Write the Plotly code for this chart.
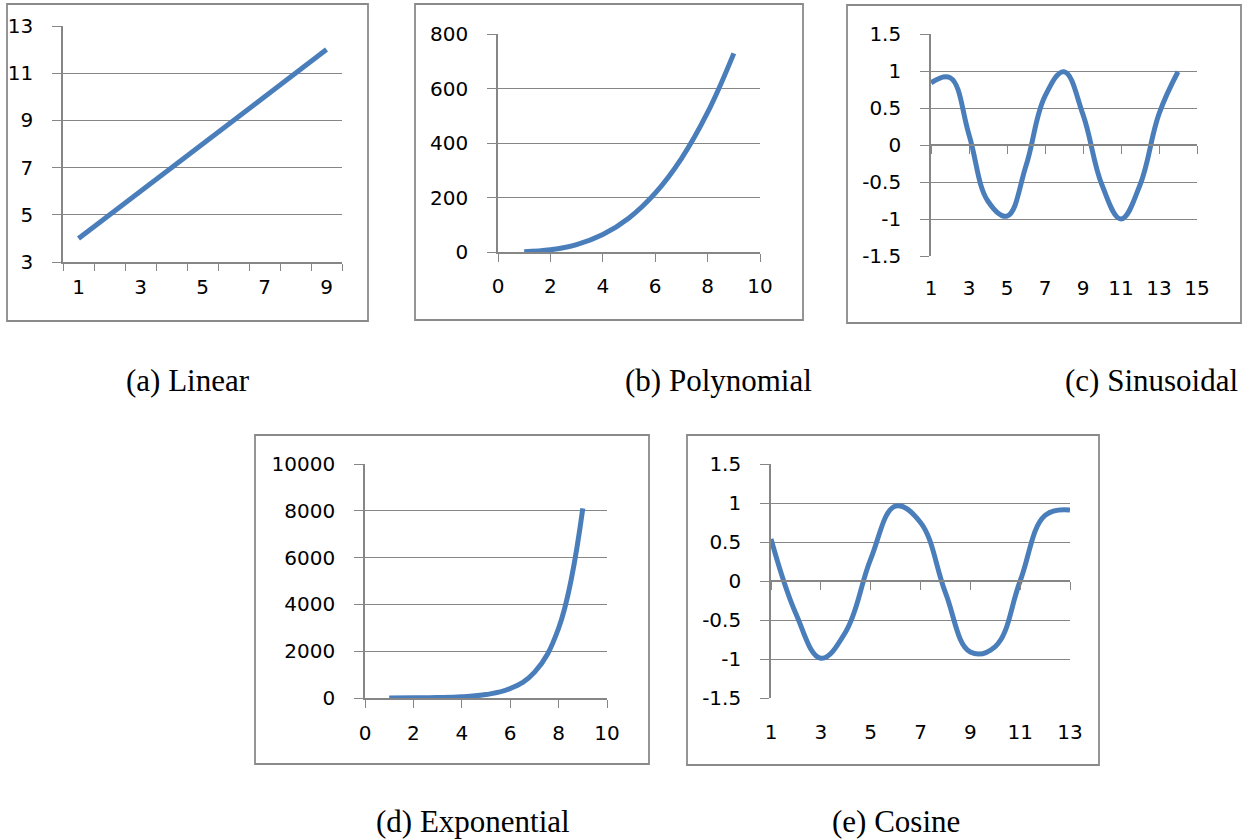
import plotly.graph_objects as go

W, H = 1244, 840

# ---------------- data ----------------
lin_x = [1, 2, 3, 4, 5, 6, 7, 8, 9]
lin_y = [4, 5, 6, 7, 8, 9, 10, 11, 12]

poly_x = [1, 2, 3, 4, 5, 6, 7, 8, 9]
poly_y = [1, 8, 27, 64, 125, 216, 343, 512, 729]

sin_x = [1, 2, 3, 4, 5, 6, 7, 8, 9, 10, 11, 12, 13, 14]
sin_y = [0.84, 0.91, 0.14, -0.76, -0.96, -0.28, 0.66, 0.99, 0.41, -0.54, -1.0, -0.54, 0.42, 0.99]

exp_x = [1, 2, 3, 4, 5, 6, 7, 8, 9]
exp_y = [2.7, 7.4, 20.1, 54.6, 148.4, 403.4, 1096.6, 2981.0, 8103.1]

cos_x = [1, 2, 3, 4, 5, 6, 7, 8, 9, 10, 11, 12, 13]
cos_y = [0.54, -0.42, -0.99, -0.65, 0.28, 0.96, 0.75, -0.15, -0.91, -0.84, 0.0, 0.84, 0.91]

# tick labels
lin_xticks = [1, 3, 5, 7, 9]
lin_yticks = [3, 5, 7, 9, 11, 13]
poly_xticks = [0, 2, 4, 6, 8, 10]
poly_yticks = [0, 200, 400, 600, 800]
sin_xticks = [1, 3, 5, 7, 9, 11, 13, 15]
wave_yticks = [-1.5, -1, -0.5, 0, 0.5, 1, 1.5]
wave_ytext = ["-1.5", "-1", "-0.5", "0", "0.5", "1", "1.5"]
exp_xticks = [0, 2, 4, 6, 8, 10]
exp_yticks = [0, 2000, 4000, 6000, 8000, 10000]
cos_xticks = [1, 3, 5, 7, 9, 11, 13]

captions = ["(a) Linear", "(b) Polynomial", "(c) Sinusoidal", "(d) Exponential", "(e) Cosine"]

# ---------------- style ----------------
LINE = "#4A7EBB"
GRID = "#868686"
FONT = dict(family="'DejaVu Sans', 'Liberation Sans', sans-serif", size=20, color="#000000")


def xd(a, b):
    return [a / W, b / W]


def yd(top, bottom):
    return [1 - bottom / H, 1 - top / H]


def yaxis(dom, rng, vals, text=None, anchor="x"):
    return dict(domain=dom, range=rng, tickvals=vals, ticktext=text if text else [str(v) for v in vals],
                showgrid=True, gridcolor=GRID, gridwidth=1.4, zeroline=False,
                showline=True, linecolor=GRID, linewidth=1.6,
                ticks="outside", ticklen=9, tickcolor=GRID, tickwidth=1.4,
                tickfont=FONT, ticklabelstandoff=15, anchor=anchor, fixedrange=True,
                automargin=False)


fig = go.Figure()
line = dict(color=LINE, width=5, shape="spline", smoothing=1.15)

fig.add_trace(go.Scatter(x=lin_x, y=lin_y, mode="lines", line=dict(color=LINE, width=5),
                         xaxis="x", yaxis="y"))
fig.add_trace(go.Scatter(x=poly_x, y=poly_y, mode="lines", line=line, xaxis="x2", yaxis="y2"))
fig.add_trace(go.Scatter(x=sin_x, y=sin_y, mode="lines", line=line, xaxis="x3", yaxis="y3"))
fig.add_trace(go.Scatter(x=exp_x, y=exp_y, mode="lines", line=line, xaxis="x4", yaxis="y4"))
fig.add_trace(go.Scatter(x=cos_x, y=cos_y, mode="lines", line=line, xaxis="x5", yaxis="y5"))
# empty traces to create the zero-line axes for (c) and (e)
fig.add_trace(go.Scatter(x=[], y=[], mode="lines", xaxis="x6", yaxis="y3", hoverinfo="skip"))
fig.add_trace(go.Scatter(x=[], y=[], mode="lines", xaxis="x7", yaxis="y5", hoverinfo="skip"))

dom_a = (xd(63, 342), yd(26, 262))
dom_b = (xd(498, 760), yd(34, 252))
dom_c = (xd(931, 1197), yd(34, 256))
dom_d = (xd(365, 607), yd(464, 698))
dom_e = (xd(771, 1070), yd(464, 698))

common_x = dict(showgrid=False, zeroline=False, tickfont=FONT, fixedrange=True, automargin=False)

layout = dict(
    width=W, height=H, margin=dict(l=0, r=0, t=0, b=0, pad=0, autoexpand=False),
    paper_bgcolor="white", plot_bgcolor="white", showlegend=False,
    xaxis=dict(domain=dom_a[0], range=[0.5, 9.5], tickvals=lin_xticks,
               ticktext=[str(v) for v in lin_xticks], ticks="", ticklabelstandoff=6,
               showline=True, linecolor=GRID, linewidth=1.6, anchor="y",
               minor=dict(tickvals=[i + 0.5 for i in range(0, 10)], ticks="outside",
                          ticklen=7, tickcolor=GRID, tickwidth=1.4, showgrid=False),
               **common_x),
    yaxis=yaxis(dom_a[1], [3, 13], lin_yticks, anchor="x"),
    xaxis2=dict(domain=dom_b[0], range=[0, 10], tickvals=poly_xticks,
                ticktext=[str(v) for v in poly_xticks], ticks="outside", ticklen=8,
                tickcolor=GRID, tickwidth=1.4, ticklabelstandoff=7,
                showline=True, linecolor=GRID, linewidth=1.6, anchor="y2", **common_x),
    yaxis2=yaxis(dom_b[1], [0, 800], poly_yticks, anchor="x2"),
    xaxis3=dict(domain=dom_c[0], range=[1, 15], tickvals=sin_xticks,
                ticktext=[str(v) for v in sin_xticks], ticks="", ticklabelstandoff=18,
                showline=False, anchor="y3", **common_x),
    yaxis3=yaxis(dom_c[1], [-1.5, 1.5], wave_yticks, wave_ytext, anchor="x3"),
    xaxis6=dict(overlaying="x3", range=[1, 15], tickvals=sin_xticks, showticklabels=False,
                ticks="outside", ticklen=8, tickcolor=GRID, tickwidth=1.4,
                showline=True, linecolor=GRID, linewidth=1.6, showgrid=False, zeroline=False,
                anchor="free", position=(dom_c[1][0] + dom_c[1][1]) / 2, fixedrange=True,
                automargin=False),
    xaxis4=dict(domain=dom_d[0], range=[0, 10], tickvals=exp_xticks,
                ticktext=[str(v) for v in exp_xticks], ticks="outside", ticklen=8,
                tickcolor=GRID, tickwidth=1.4, ticklabelstandoff=8,
                showline=True, linecolor=GRID, linewidth=1.6, anchor="y4", **common_x),
    yaxis4=yaxis(dom_d[1], [0, 10000], exp_yticks, anchor="x4"),
    xaxis5=dict(domain=dom_e[0], range=[1, 13], tickvals=cos_xticks,
                ticktext=[str(v) for v in cos_xticks], ticks="", ticklabelstandoff=20,
                showline=False, anchor="y5", **common_x),
    yaxis5=yaxis(dom_e[1], [-1.5, 1.5], wave_yticks, wave_ytext, anchor="x5"),
    xaxis7=dict(overlaying="x5", range=[1, 13], tickvals=cos_xticks, showticklabels=False,
                ticks="outside", ticklen=8, tickcolor=GRID, tickwidth=1.4,
                showline=True, linecolor=GRID, linewidth=1.6, showgrid=False, zeroline=False,
                anchor="free", position=(dom_e[1][0] + dom_e[1][1]) / 2, fixedrange=True,
                automargin=False),
)
fig.update_layout(**layout)

frames = [(7, 4, 368, 321), (415, 4, 803, 320), (847, 5, 1241, 323),
          (255, 435, 649, 764), (687, 435, 1099, 765)]
for (x0, y0, x1, y1) in frames:
    fig.add_shape(type="rect", xref="paper", yref="paper",
                  x0=x0 / W, x1=x1 / W, y0=1 - y1 / H, y1=1 - y0 / H,
                  line=dict(color="#8a8a8a", width=1.8), fillcolor="rgba(0,0,0,0)", layer="below")

cap_pos = [(188, 381), (718, 381), (1151, 381), (473, 821), (896, 821)]
for text, (cx, cy) in zip(captions, cap_pos):
    fig.add_annotation(text=text, xref="paper", yref="paper", x=cx / W, y=1 - cy / H,
                       xanchor="center", yanchor="middle", showarrow=False,
                       font=dict(family="'Liberation Serif', 'Times New Roman', serif",
                                 size=31, color="#000000"))

fig.write_html("out.html")
